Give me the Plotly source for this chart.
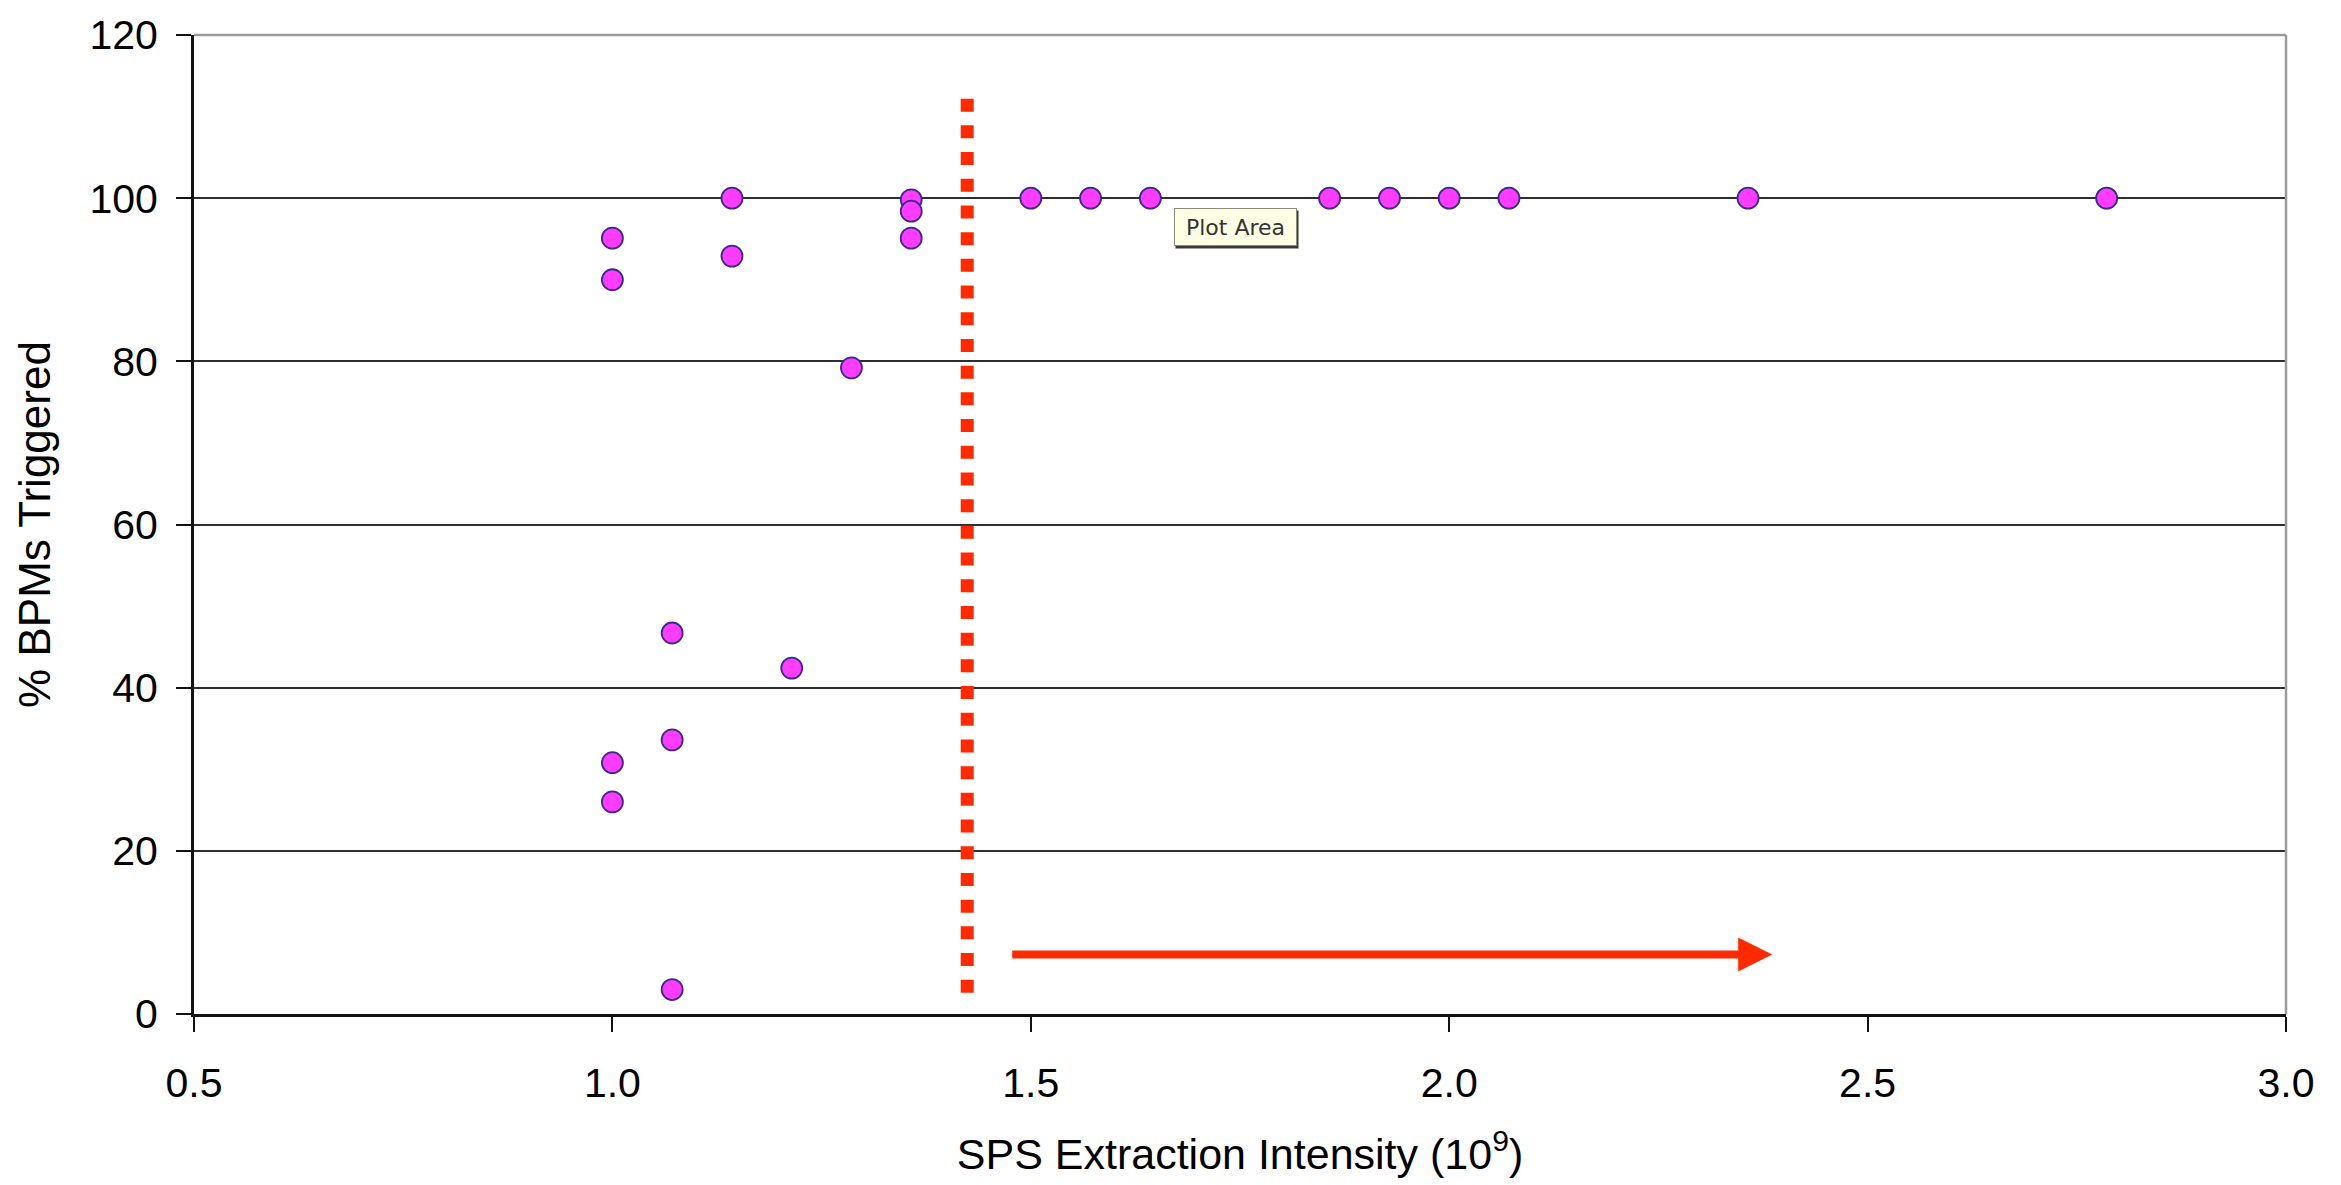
import plotly.graph_objects as go

# ---- data ----
intensity = [1.0, 1.0, 1.0, 1.0,
             1.0714, 1.0714, 1.0714,
             1.1429, 1.1429,
             1.2143,
             1.2857,
             1.3571, 1.3571, 1.3571,
             1.5, 1.5714, 1.6429, 1.8571, 1.9286, 2.0, 2.0714, 2.3571, 2.7857]
pct_triggered = [95.1, 90.0, 30.8, 26.0,
                 46.7, 33.6, 3.0,
                 100.0, 92.9,
                 42.4,
                 79.2,
                 99.8, 98.4, 95.1,
                 100, 100, 100, 100, 100, 100, 100, 100, 100]

x_ticks = [0.5, 1.0, 1.5, 2.0, 2.5, 3.0]
y_ticks = [0, 20, 40, 60, 80, 100, 120]

threshold_x = 1.424           # dotted red threshold line
threshold_y_top = 112.2
threshold_y_bottom = 1.4
arrow_start = (1.476, 7.3)
arrow_end = (2.386, 7.3)
tooltip_pos = (1.7446, 96.45)

RED = "#FF2A00"
FONT = "Liberation Sans, Arial, sans-serif"

fig = go.Figure()
fig.add_trace(go.Scatter(
    x=intensity, y=pct_triggered, mode="markers",
    marker=dict(size=21, color="#FF3CFF", line=dict(color="#3A2A8C", width=1.8)),
    showlegend=False, hoverinfo="skip"))

shapes = [
    # dotted threshold line
    dict(type="line", xref="x", yref="y", x0=threshold_x, x1=threshold_x,
         y0=threshold_y_top, y1=threshold_y_bottom,
         line=dict(color=RED, width=13, dash="13px,13.7px"), layer="above"),
    # top and right frame in gray
    dict(type="line", xref="paper", yref="paper", x0=0, x1=1, y0=1, y1=1,
         line=dict(color="#9A9A9A", width=2.5), layer="above"),
    dict(type="line", xref="paper", yref="paper", x0=1, x1=1, y0=0, y1=1,
         line=dict(color="#9A9A9A", width=2.5), layer="above"),
]

annotations = [
    dict(x=arrow_end[0], y=arrow_end[1], ax=arrow_start[0], ay=arrow_start[1],
         xref="x", yref="y", axref="x", ayref="y", text="", showarrow=True,
         arrowhead=2, arrowsize=0.85, arrowwidth=8, arrowcolor=RED, standoff=0),
    # tooltip shadow
    dict(x=tooltip_pos[0], y=tooltip_pos[1], xref="x", yref="y", text=" ",
         showarrow=False, width=120, height=35, bgcolor="#3A3A3A",
         xshift=2, yshift=-2, font=dict(size=22)),
    # tooltip
    dict(x=tooltip_pos[0], y=tooltip_pos[1], xref="x", yref="y", text="Plot Area",
         showarrow=False, width=119, height=34, bgcolor="#FFFFE6",
         bordercolor="#8A8A7A", borderwidth=1,
         font=dict(family="DejaVu Sans, Verdana, sans-serif", size=22, color="#333333")),
]

fig.update_layout(
    width=2341, height=1185,
    margin=dict(l=194, r=55, t=26, b=171),
    paper_bgcolor="white", plot_bgcolor="white",
    shapes=shapes, annotations=annotations,
    font=dict(family=FONT, color="black"),
    xaxis=dict(range=[0.5, 3.0], tickvals=x_ticks, tickformat=".1f",
               showgrid=False, zeroline=False,
               showline=True, linecolor="#111111", linewidth=3,
               ticks="outside", ticklen=15, tickwidth=2, tickcolor="#111111",
               tickfont=dict(size=41, family=FONT, color="black"),
               ticklabelstandoff=16,
               title=dict(text="SPS Extraction Intensity (10<sup>9</sup>)",
                          font=dict(size=43, family=FONT, color="black"),
                          standoff=34)),
    yaxis=dict(range=[0, 120], tickvals=y_ticks,
               showgrid=True, gridcolor="#2E2E2E", gridwidth=2.2,
               zeroline=False,
               showline=True, linecolor="#111111", linewidth=3,
               ticks="outside", ticklen=15, tickwidth=2, tickcolor="#111111",
               tickfont=dict(size=41, family=FONT, color="black"),
               ticklabelstandoff=10,
               title=dict(text="% BPMs Triggered",
                          font=dict(size=44, family=FONT, color="black"),
                          standoff=25)),
)

fig.write_html("out.html")
